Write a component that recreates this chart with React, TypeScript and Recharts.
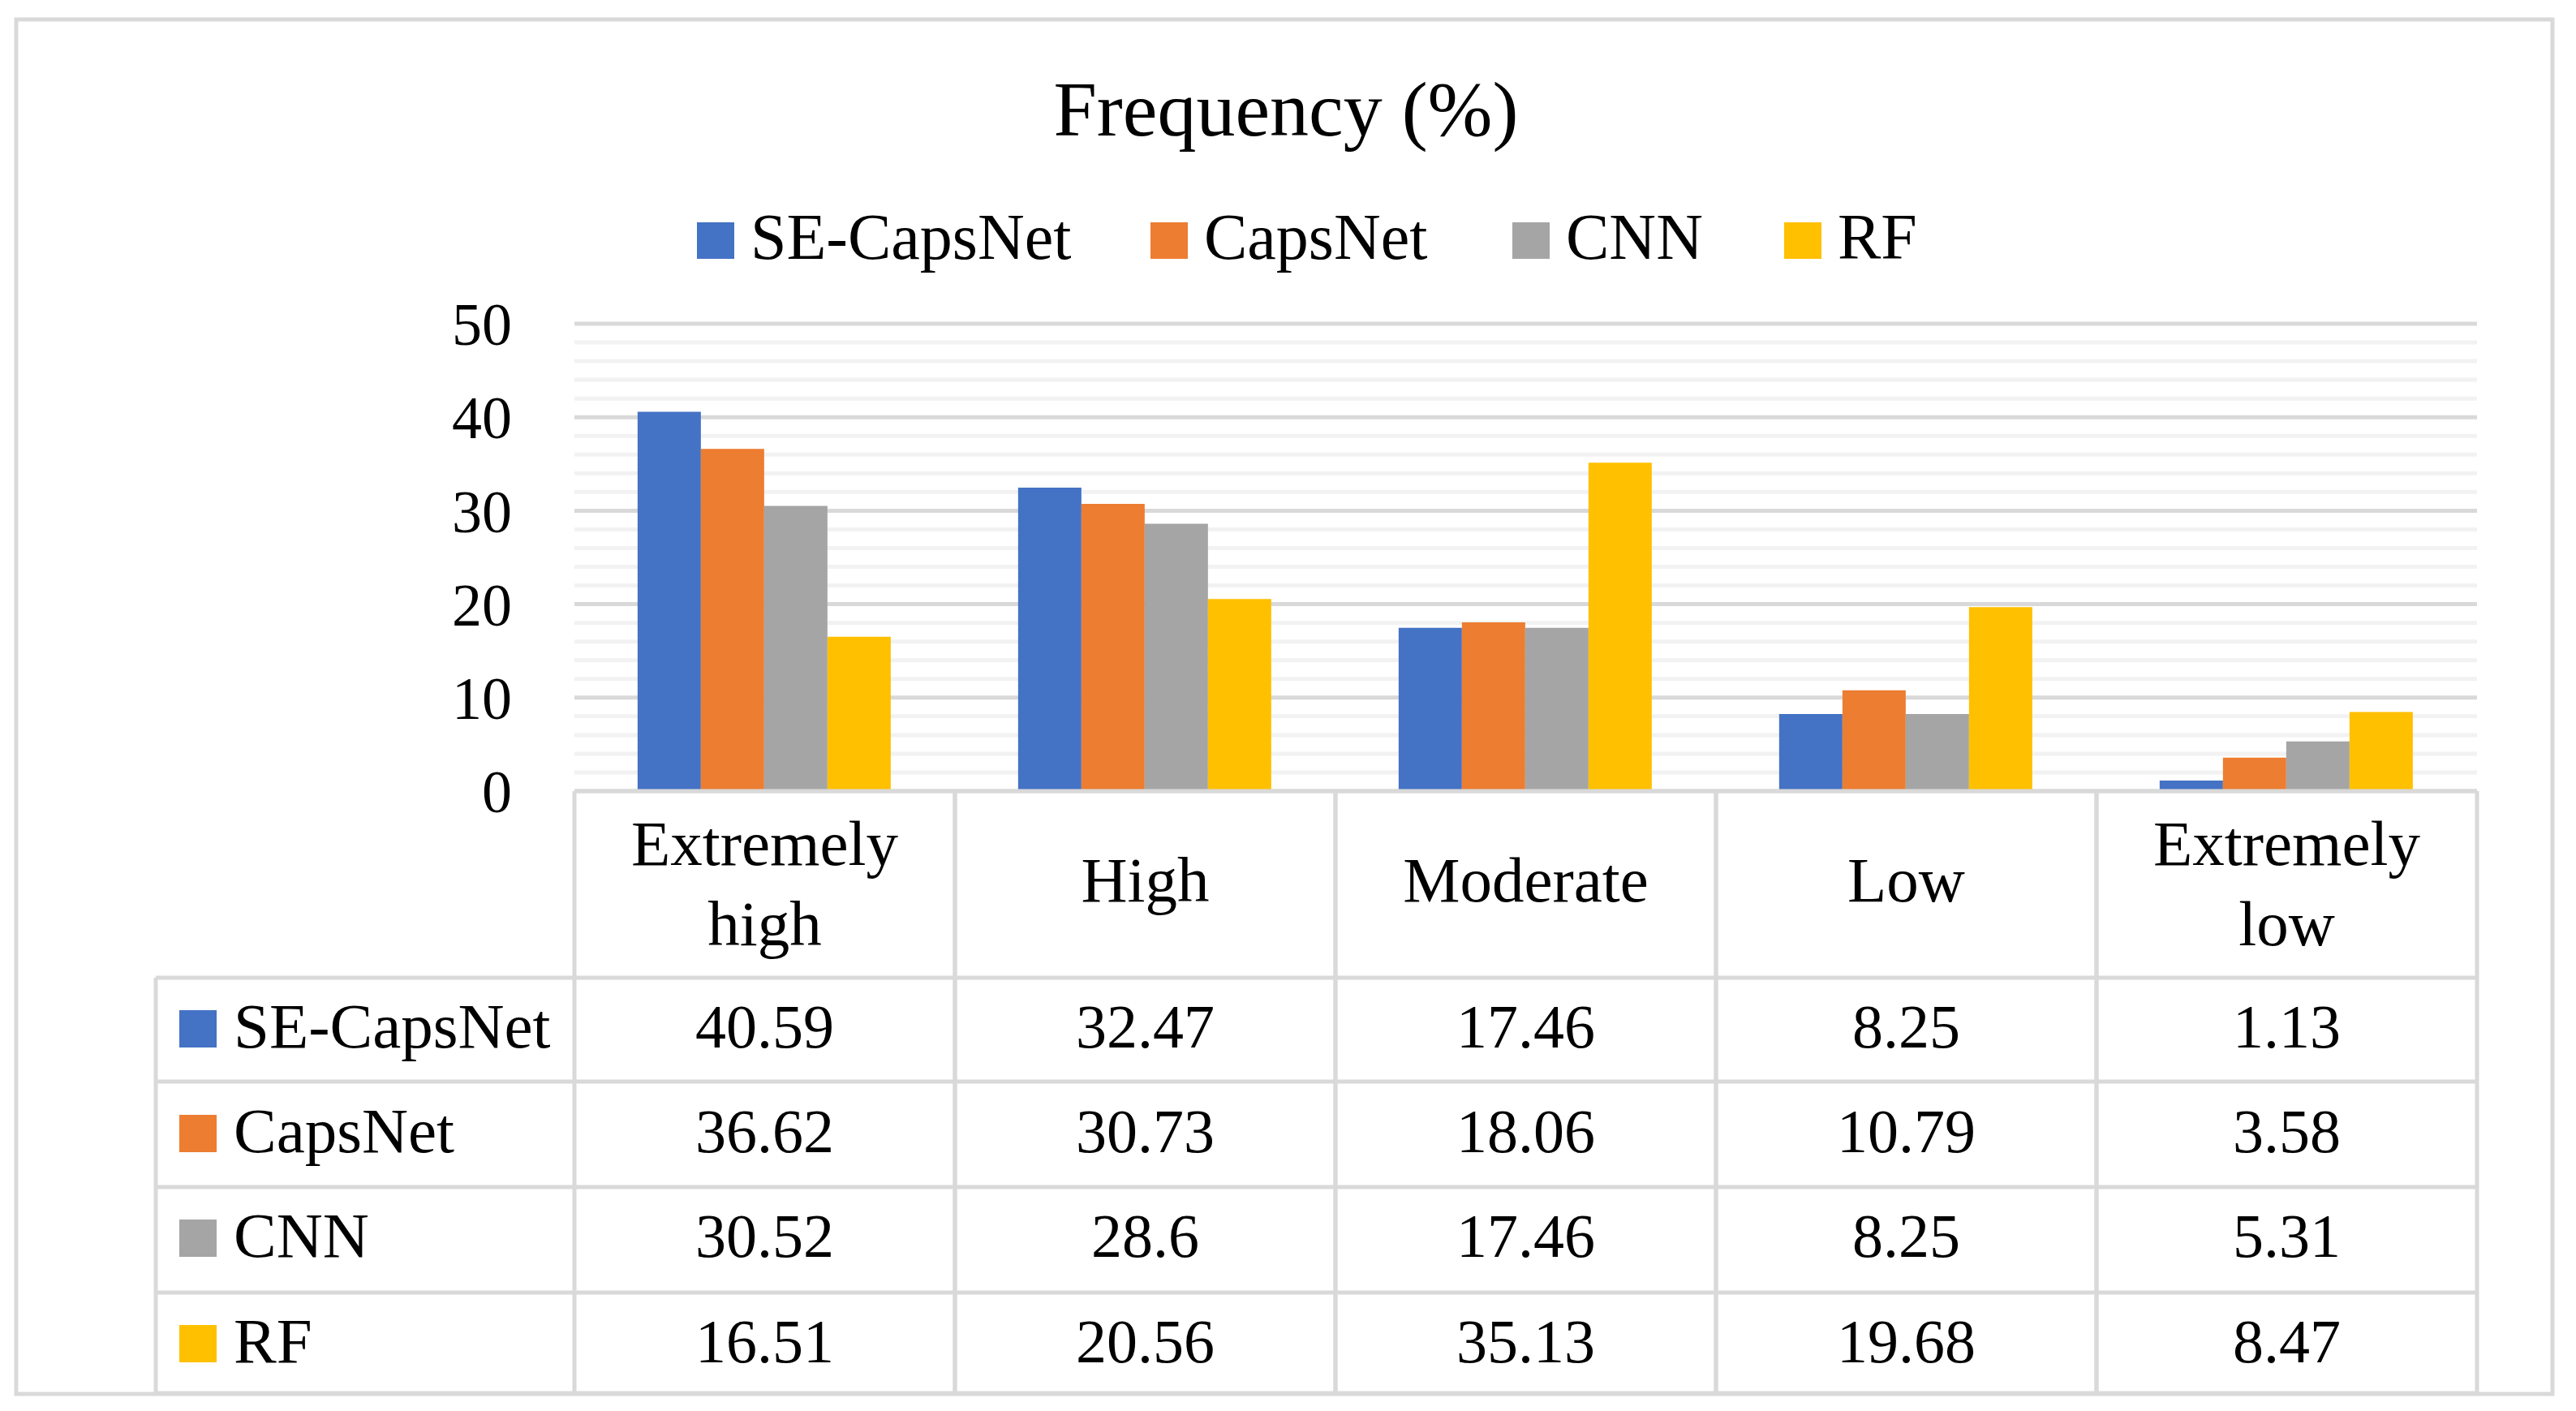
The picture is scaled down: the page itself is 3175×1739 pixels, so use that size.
import React from "react";
import { Bar, BarChart, CartesianGrid, XAxis, YAxis } from "recharts";

const categories = ["Extremely high", "High", "Moderate", "Low", "Extremely low"];
const seriesNames = ["SE-CapsNet", "CapsNet", "CNN", "RF"];
const seCapsNet = [40.59, 32.47, 17.46, 8.25, 1.13];
const capsNet = [36.62, 30.73, 18.06, 10.79, 3.58];
const cnn = [30.52, 28.6, 17.46, 8.25, 5.31];
const rf = [16.51, 20.56, 35.13, 19.68, 8.47];
const yTicks = [0, 10, 20, 30, 40, 50];
const minorTicks = [2, 4, 6, 8, 12, 14, 16, 18, 22, 24, 26, 28, 32, 34, 36, 38, 42, 44, 46, 48];

const seriesValues = [seCapsNet, capsNet, cnn, rf];
const colors = ["#4472c4", "#ed7d31", "#a5a5a5", "#ffc000"];
const keys = ["se", "caps", "cnn", "rf"];

const data = categories.map((name, i) => ({
  name,
  se: seCapsNet[i],
  caps: capsNet[i],
  cnn: cnn[i],
  rf: rf[i],
}));

const W = 3175;
const H = 1739;
const PLOT_LEFT = 708;
const PLOT_RIGHT = 3053;
const PLOT_TOP = 399;
const PLOT_BOTTOM = 975;
const BAND = (PLOT_RIGHT - PLOT_LEFT) / categories.length;
const FONT = "'Liberation Serif', 'Times New Roman', serif";
const LINE = "#d9d9d9";

// table geometry
const ROW_EDGES = [1205, 1333, 1463, 1593, 1717];
const ROW_BASELINES = [1291, 1420, 1549, 1679];
const ROW_HEAD_LEFT = 192;
const LEGEND_X = [859, 1418, 1864, 2199];

function TableColumn(props: any) {
  const { x, index } = props;
  const left = x - BAND / 2;
  const right = x + BAND / 2;
  const words = categories[index].split(" ");
  const headBase = words.length > 1 ? [1066, 1165] : [1111];

  return (
    <g>
      {index === 0 && (
        <g>
          <line x1={ROW_HEAD_LEFT} x2={ROW_HEAD_LEFT} y1={ROW_EDGES[0]} y2={ROW_EDGES[4]} stroke={LINE} strokeWidth={5} />
          {ROW_EDGES.map((y) => (
            <line key={y} x1={ROW_HEAD_LEFT} x2={left} y1={y} y2={y} stroke={LINE} strokeWidth={5} />
          ))}
          {seriesNames.map((s, r) => (
            <g key={s}>
              <rect x={221} y={ROW_BASELINES[r] - 46} width={46} height={46} fill={colors[r]} />
              <text x={288} y={ROW_BASELINES[r]} fontFamily={FONT} fontSize={79} fill="#000">
                {s}
              </text>
            </g>
          ))}
        </g>
      )}
      <line x1={left} x2={left} y1={PLOT_BOTTOM} y2={ROW_EDGES[4]} stroke={LINE} strokeWidth={5} />
      <line x1={right} x2={right} y1={PLOT_BOTTOM} y2={ROW_EDGES[4]} stroke={LINE} strokeWidth={5} />
      {[PLOT_BOTTOM, ...ROW_EDGES].map((y) => (
        <line key={y} x1={left} x2={right} y1={y} y2={y} stroke={LINE} strokeWidth={5} />
      ))}
      {words.map((w, k) => (
        <text key={w} x={x} y={headBase[k]} textAnchor="middle" fontFamily={FONT} fontSize={79} fill="#000">
          {w}
        </text>
      ))}
      {seriesValues.map((vals, r) => (
        <text key={r} x={x} y={ROW_BASELINES[r]} textAnchor="middle" fontFamily={FONT} fontSize={76} fill="#000">
          {String(vals[index])}
        </text>
      ))}
    </g>
  );
}

export default function App() {
  return (
    <div style={{ position: "relative", width: W, height: H, background: "#fff" }}>
      <style>{"body{margin:0}"}</style>
      <div style={{ position: "absolute", left: 0, top: 0 }}>
        <BarChart
          width={W}
          height={H}
          data={data}
          margin={{ top: PLOT_TOP, right: W - PLOT_RIGHT, left: 0, bottom: 0 }}
          barCategoryGap="16.6%"
          barGap={0}
        >
          <CartesianGrid vertical={false} horizontalValues={minorTicks} stroke="#f2f2f2" strokeWidth={5} />
          <CartesianGrid vertical={false} horizontalValues={yTicks} stroke={LINE} strokeWidth={5} />
          <YAxis
            width={PLOT_LEFT}
            domain={[0, 50]}
            ticks={yTicks}
            axisLine={false}
            tickLine={false}
            tickSize={0}
            tickMargin={77}
            tick={{ fontFamily: FONT, fontSize: 74, fill: "#000" }}
          />
          <XAxis
            dataKey="name"
            height={H - PLOT_BOTTOM}
            axisLine={false}
            tickLine={false}
            interval={0}
            tick={(p: any) => <TableColumn {...p} />}
          />
          {keys.map((k, i) => (
            <Bar key={k} dataKey={k} name={seriesNames[i]} fill={colors[i]} isAnimationActive={false} />
          ))}
        </BarChart>
      </div>
      <svg width={W} height={H} style={{ position: "absolute", left: 0, top: 0, pointerEvents: "none" }}>
        <rect x={20} y={24} width={3126} height={1694} fill="none" stroke={LINE} strokeWidth={5} />
        <text x={1585} y={167} textAnchor="middle" fontFamily={FONT} fontSize={96} fill="#000">
          Frequency (%)
        </text>
        {seriesNames.map((s, i) => (
          <g key={s}>
            <rect x={LEGEND_X[i]} y={274} width={46} height={45} fill={colors[i]} />
            <text x={LEGEND_X[i] + 66} y={319} fontFamily={FONT} fontSize={80} fill="#000">
              {s}
            </text>
          </g>
        ))}
      </svg>
    </div>
  );
}
